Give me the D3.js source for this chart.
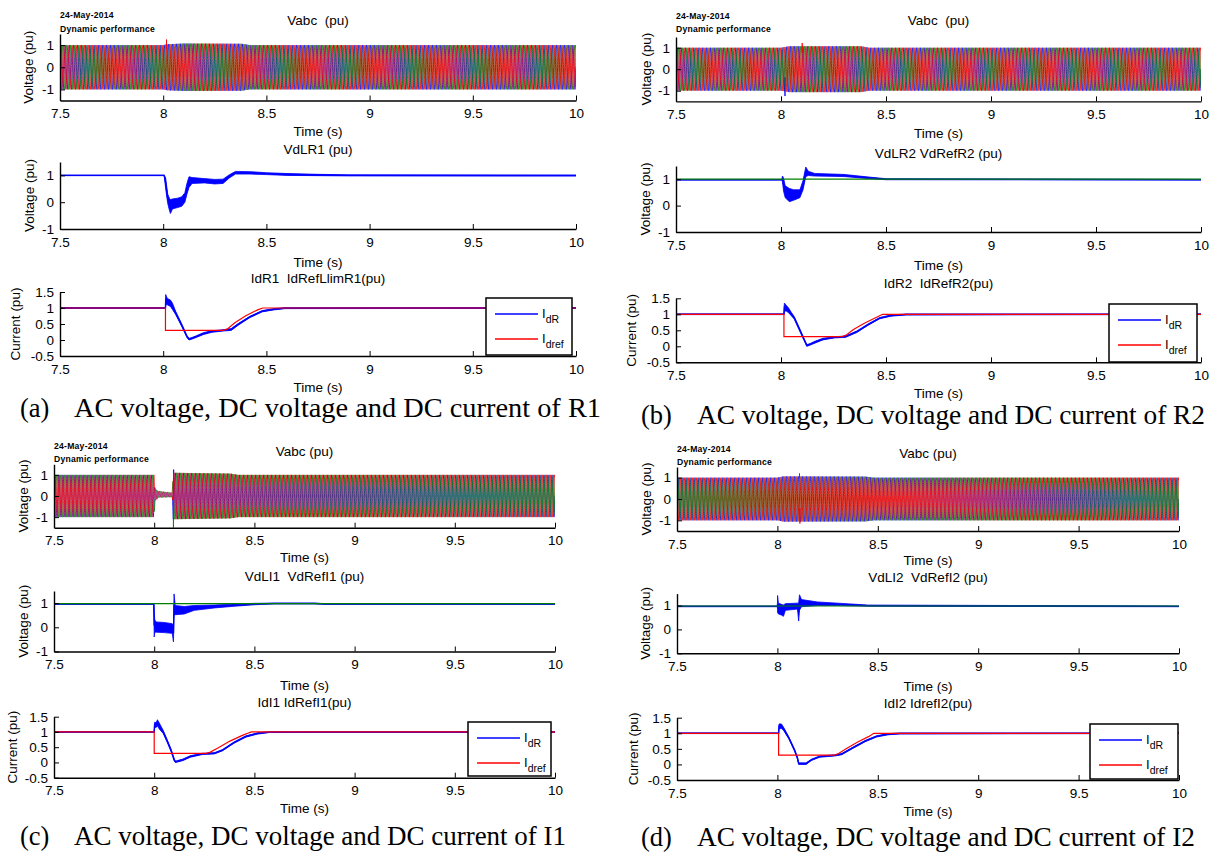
<!DOCTYPE html>
<html>
<head>
<meta charset="utf-8">
<script src="https://cdn.jsdelivr.net/npm/d3@7"></script>
<style>
  body { margin: 0; background: #fff; }
  svg text { font-family: "Liberation Sans", Arial, sans-serif; fill: #000; }
</style>
</head>
<body>
<svg id="fig" width="1215" height="852"></svg>
<script>
// ---------- shared axes ----------
const timeDomain = [7.5, 10];
const timeTicks = [7.5, 8, 8.5, 9, 9.5, 10];
const acVoltDomain = [-1.5, 1.5];
const acVoltTicks = [-1, 0, 1];
const dcVoltDomain = [-1, 1.5];
const dcVoltTicks = [-1, 0, 1];
const currentDomain = [-0.5, 1.5];
const currentTicks = [-0.5, 0, 0.5, 1, 1.5];
const gridHz = 50;

// ---------- text ----------
const stationTags = ["(a)", "(b)", "(c)", "(d)"];
const captions = [
  "AC voltage, DC voltage and DC current of R1",
  "AC voltage, DC voltage and DC current of R2",
  "AC voltage, DC voltage and DC current of I1",
  "AC voltage, DC voltage and DC current of I2"
];
const acTitles = ["Vabc  (pu)", "Vabc  (pu)", "Vabc (pu)", "Vabc (pu)"];
const dcTitles = ["VdLR1 (pu)", "VdLR2 VdRefR2 (pu)", "VdLI1  VdRefI1 (pu)", "VdLI2  VdRefI2 (pu)"];
const idTitles = ["IdR1  IdRefLlimR1(pu)", "IdR2  IdRefR2(pu)", "IdI1 IdRefI1(pu)", "IdI2 IdrefI2(pu)"];
const runDate = "24-May-2014";
const runName = "Dynamic performance";

// ---------- AC voltage envelopes: [time, amplitude, offset] ----------
const acEnvR1 = [[7.5,1.0,0],[8.0,1.0,0],[8.02,1.04,0],[8.1,1.07,0],[8.38,1.06,0],[8.42,1.0,0],[10,1.0,0]];
const acEnvR2 = [[7.5,1.0,0],[8.0,1.0,0],[8.04,1.07,0],[8.38,1.07,0],[8.42,1.0,0],[10,1.0,0]];
const acEnvI1 = [[7.5,1.0,0],[7.999,1.0,0],[8.004,0.3,0.05],[8.02,0.15,0.08],[8.09,0.1,0.05],[8.095,1.1,0],[8.38,1.06,0],[8.42,1.0,0],[10,1.0,0]];
const acEnvI2 = [[7.5,1.0,0],[8.0,1.0,0],[8.03,1.06,0],[8.44,1.05,0],[8.48,1.0,0],[10,1.0,0]];
// AC voltage spikes: [time, phase index (a,b,c), value]
const acSpikesR1 = [[8.016, 2, 1.25]];
const acSpikesR2 = [[8.019, 0, -1.25], [8.101, 2, 1.22]];
const acSpikesI1 = [[8.096, 1, -1.5], [8.097, 0, 1.25]];
const acSpikesI2 = [[8.11, 1, 1.2], [8.112, 2, -1.15]];

// ---------- DC voltage: [time, low, high] ----------
const vdR1 = [[7.5,0.99,1.01],[8.005,0.99,1.01],[8.012,0.5,0.9],[8.022,-0.05,0.3],[8.03,-0.3,0.15],[8.035,-0.42,0.1],
  [8.045,-0.25,0.12],[8.07,-0.2,0.15],[8.09,-0.15,0.2],[8.105,0.0,0.35],[8.115,0.3,0.7],[8.125,0.55,0.95],
  [8.14,0.7,0.92],[8.2,0.72,0.88],[8.25,0.68,0.85],[8.29,0.7,0.86],[8.32,0.9,1.02],[8.35,1.05,1.15],
  [8.42,1.05,1.14],[8.5,1.03,1.1],[8.6,1.0,1.07],[8.75,0.99,1.04],[8.9,0.98,1.02],[10,0.98,1.01]];
const vdR2 = [[7.5,0.97,0.99],[8.004,0.97,0.99],[8.007,0.9,1.12],[8.012,0.55,1.05],[8.02,0.3,0.75],[8.04,0.15,0.65],
  [8.06,0.2,0.6],[8.09,0.3,0.6],[8.105,0.6,0.95],[8.118,1.1,1.46],[8.13,1.14,1.3],[8.16,1.12,1.22],
  [8.3,1.1,1.18],[8.42,1.02,1.08],[8.5,0.98,1.02],[10,0.97,0.99]];
const vdI1 = [[7.5,0.95,0.98],[7.998,0.95,0.98],[8.0,-0.4,0.6],[8.003,-0.2,0.3],[8.01,-0.2,0.22],[8.05,-0.22,0.2],
  [8.09,-0.25,0.15],[8.096,-0.6,0.1],[8.099,0.5,1.38],[8.105,0.52,0.9],[8.15,0.55,0.86],[8.2,0.7,0.9],
  [8.3,0.8,0.92],[8.4,0.87,0.96],[8.5,0.93,0.99],[8.6,0.97,1.0],[8.8,0.97,1.0],[8.85,0.95,0.98],[10,0.95,0.98]];
const vdI2 = [[7.5,0.95,0.98],[8.0,0.95,0.98],[8.001,0.7,1.42],[8.005,0.65,1.1],[8.02,0.6,1.05],[8.03,0.55,1.02],
  [8.04,0.8,1.08],[8.1,0.85,1.1],[8.106,0.35,1.1],[8.11,0.8,1.45],[8.12,0.95,1.25],[8.2,1.0,1.15],
  [8.3,1.0,1.1],[8.45,0.97,1.02],[10,0.95,0.98]];
// DC voltage references: [time, value]
const vdRefR1 = [];
const vdRefR2 = [[7.5,1.0],[10,1.0]];
const vdRefI1 = [[7.5,0.98],[10,0.98]];
const vdRefI2 = [[7.5,0.98],[10,0.98]];

// ---------- DC current: [time, low, high] ----------
const idR1 = [[7.5,0.99,1.01],[8.011,0.99,1.01],[8.012,1.1,1.42],[8.02,1.1,1.3],[8.035,1.05,1.25],[8.045,0.95,1.15],
  [8.06,0.8,0.9],[8.09,0.42,0.5],[8.115,0.08,0.14],[8.125,0.0,0.05],[8.14,0.03,0.08],[8.16,0.08,0.13],
  [8.195,0.17,0.23],[8.235,0.24,0.29],[8.29,0.28,0.32],[8.33,0.3,0.36],[8.365,0.47,0.52],[8.42,0.7,0.74],
  [8.48,0.88,0.92],[8.535,0.94,0.98],[8.59,0.98,1.01],[10,0.99,1.01]];
const idR2 = [[7.5,0.99,1.01],[8.014,0.99,1.01],[8.016,1.1,1.35],[8.025,1.1,1.28],[8.036,1.05,1.2],[8.05,0.95,1.05],
  [8.063,0.85,0.93],[8.09,0.46,0.54],[8.11,0.18,0.24],[8.123,0.0,0.05],[8.14,0.04,0.09],[8.162,0.1,0.16],
  [8.2,0.2,0.25],[8.253,0.26,0.3],[8.307,0.28,0.32],[8.361,0.43,0.48],[8.415,0.66,0.7],[8.47,0.86,0.9],
  [8.523,0.94,0.98],[8.596,0.98,1.01],[10,0.99,1.01]];
const idI1 = [[7.5,0.99,1.01],[8.0,0.99,1.01],[8.002,1.15,1.32],[8.01,1.15,1.3],[8.016,1.2,1.4],[8.025,1.1,1.3],
  [8.045,0.95,1.05],[8.065,0.66,0.74],[8.084,0.36,0.44],[8.1,0.05,0.12],[8.106,0.0,0.04],[8.12,0.02,0.07],
  [8.143,0.06,0.11],[8.18,0.17,0.22],[8.24,0.26,0.3],[8.3,0.28,0.32],[8.34,0.38,0.42],[8.398,0.63,0.67],
  [8.457,0.83,0.87],[8.515,0.93,0.97],[8.575,0.98,1.01],[10,0.99,1.01]];
const idI2 = [[7.5,0.99,1.01],[8.006,0.99,1.01],[8.008,1.15,1.3],[8.02,1.15,1.3],[8.03,1.1,1.2],[8.057,0.82,0.88],
  [8.086,0.42,0.48],[8.1,0.17,0.23],[8.106,0.0,0.05],[8.143,0.0,0.05],[8.17,0.13,0.17],[8.21,0.23,0.27],
  [8.285,0.27,0.31],[8.32,0.31,0.35],[8.38,0.53,0.57],[8.437,0.73,0.77],[8.494,0.88,0.92],[8.55,0.95,0.99],
  [8.61,0.98,1.01],[10,0.99,1.01]];
// current orders: [time, value]
const idRefR1 = [[7.5,1],[8.011,1],[8.011,0.3],[8.29,0.3],[8.31,0.34],[8.347,0.54],[8.4,0.76],[8.46,0.95],[8.483,1],[10,1]];
const idRefR2 = [[7.5,1],[8.014,1],[8.014,0.3],[8.289,0.3],[8.31,0.35],[8.343,0.52],[8.397,0.72],[8.45,0.89],[8.484,1],[10,1]];
const idRefI1 = [[7.5,1],[8.0,1],[8.0,0.3],[8.26,0.3],[8.28,0.34],[8.32,0.48],[8.378,0.7],[8.437,0.88],[8.476,0.98],[8.485,1],[10,1]];
const idRefI2 = [[7.5,1],[8.006,1],[8.006,0.3],[8.285,0.3],[8.305,0.35],[8.342,0.5],[8.4,0.72],[8.456,0.9],[8.48,1],[10,1]];

const legendNames = [["I", "dR"], ["I", "dref"]];

// ---------- styling ----------
const BLUE = "#0000ff", RED = "#ff0000", GREEN = "#008000";
const phaseColors = [BLUE, GREEN, RED];

// ---------- layout of the four station figures ----------
const layout = [
  { x0: 60, x1: 576, tagX: 20, capX: 74, capY: 408, capW: 527, dateY: [15, 28.5],
    subs: [ { top: 34, bottom: 100.5, titleY: 20, xlabY: 131, ylabX: 28 },
            { top: 162, bottom: 229, titleY: 149, xlabY: 262, ylabX: 29 },
            { top: 292, bottom: 356, titleY: 278.5, xlabY: 387, ylabX: 15.5 } ],
    legend: { x: 486, y: 298, w: 86, h: 57 } },
  { x0: 676, x1: 1201, tagX: 641, capX: 697, capY: 415, capW: 508, dateY: [15.5, 29],
    subs: [ { top: 37, bottom: 101.4, titleY: 20.7, xlabY: 133, ylabX: 646.5 },
            { top: 166, bottom: 232, titleY: 153, xlabY: 265, ylabX: 645 },
            { top: 298.3, bottom: 362.3, titleY: 283.3, xlabY: 393, ylabX: 631.5 } ],
    legend: { x: 1109, y: 304, w: 88, h: 58 } },
  { x0: 54, x1: 555, tagX: 20, capX: 74, capY: 836, capW: 492, dateY: [446, 459],
    subs: [ { top: 464.3, bottom: 527.7, titleY: 451.7, xlabY: 557.3, ylabX: 23.5 },
            { top: 591, bottom: 651.5, titleY: 576, xlabY: 685, ylabX: 23.5 },
            { top: 716.7, bottom: 777.7, titleY: 702.7, xlabY: 808, ylabX: 12 } ],
    legend: { x: 468, y: 722, w: 83, h: 54 } },
  { x0: 677, x1: 1179, tagX: 641, capX: 697, capY: 837, capW: 498, dateY: [449, 461.5],
    subs: [ { top: 467, bottom: 531, titleY: 453, xlabY: 560.7, ylabX: 646.5 },
            { top: 593.6, bottom: 653.3, titleY: 577.7, xlabY: 686, ylabX: 645 },
            { top: 717.7, bottom: 780, titleY: 703.3, xlabY: 811, ylabX: 633 } ],
    legend: { x: 1090, y: 724, w: 88, h: 55 } }
];

const stations = [
  { acEnv: acEnvR1, acSpikes: acSpikesR1, vd: vdR1, vdRef: vdRefR1, id: idR1, idRef: idRefR1 },
  { acEnv: acEnvR2, acSpikes: acSpikesR2, vd: vdR2, vdRef: vdRefR2, id: idR2, idRef: idRefR2 },
  { acEnv: acEnvI1, acSpikes: acSpikesI1, vd: vdI1, vdRef: vdRefI1, id: idI1, idRef: idRefI1 },
  { acEnv: acEnvI2, acSpikes: acSpikesI2, vd: vdI2, vdRef: vdRefI2, id: idI2, idRef: idRefI2 }
];

const svg = d3.select("#fig");
const FS = 13.5;

// envelope value at time t (amplitude, offset)
function envelopeAt(env, t) {
  for (let i = 1; i < env.length; i++) {
    if (t <= env[i][0]) {
      const a = env[i - 1], b = env[i];
      const f = b[0] === a[0] ? 1 : (t - a[0]) / (b[0] - a[0]);
      return [a[1] + f * (b[1] - a[1]), a[2] + f * (b[2] - a[2])];
    }
  }
  const last = env[env.length - 1];
  return [last[1], last[2]];
}

// three-phase waveform carried on the recorded envelope at the grid frequency
function phaseTrace(env, spikes, k) {
  const dt = 0.0004;
  const pts = [];
  const n = Math.round((timeDomain[1] - timeDomain[0]) / dt);
  for (let i = 0; i <= n; i++) {
    const t = timeDomain[0] + i * dt;
    const [amp, off] = envelopeAt(env, t);
    pts.push([t, off + amp * Math.sin(2 * Math.PI * gridHz * t - k * 2 * Math.PI / 3)]);
  }
  spikes.filter(s => s[1] === k).forEach(s => pts.push([s[0], s[2]]));
  pts.sort((p, q) => p[0] - q[0]);
  return pts;
}

let clipCount = 0;
function axesFrame(x, y, yTicks, s, ylabText, titleText) {
  const g = svg.append("g");
  const id = "clip" + (clipCount++);
  g.append("clipPath").attr("id", id).append("rect")
    .attr("x", x.range()[0]).attr("y", s.top)
    .attr("width", x.range()[1] - x.range()[0]).attr("height", s.bottom - s.top);
  const plot = g.append("g").attr("clip-path", `url(#${id})`);

  const xa = g.append("g").attr("transform", `translate(0,${s.bottom})`)
    .call(d3.axisBottom(x).tickValues(timeTicks).tickFormat(d => String(d))
      .tickSizeInner(-5).tickSizeOuter(0).tickPadding(8));
  const ya = g.append("g").attr("transform", `translate(${x.range()[0]},0)`)
    .call(d3.axisLeft(y).tickValues(yTicks).tickFormat(d => String(d))
      .tickSizeInner(-5).tickSizeOuter(0).tickPadding(6));
  [xa, ya].forEach(a => {
    a.attr("font-family", null).attr("font-size", null);
    a.selectAll("text").style("font-size", FS + "px").attr("fill", "#000");
    a.select(".domain").attr("stroke", "#000").attr("stroke-width", 1.4);
    a.selectAll(".tick line").attr("stroke", "#000").attr("stroke-width", 1);
  });

  const mid = (x.range()[0] + x.range()[1]) / 2;
  g.append("text").attr("x", mid).attr("y", s.titleY).attr("text-anchor", "middle")
    .attr("dominant-baseline", "central").style("font-size", FS + "px").style("white-space", "pre").text(titleText);
  g.append("text").attr("x", mid).attr("y", s.xlabY).attr("text-anchor", "middle")
    .attr("dominant-baseline", "central").style("font-size", FS + "px").text("Time (s)");
  g.append("text").attr("transform", `translate(${s.ylabX},${(s.top + s.bottom) / 2}) rotate(-90)`)
    .attr("text-anchor", "middle").attr("dominant-baseline", "central")
    .style("font-size", FS + "px").text(ylabText);
  return plot;
}

function bandTrace(plot, x, y, data, color) {
  const area = d3.area().x(d => x(d[0])).y0(d => y(d[1])).y1(d => y(d[2]));
  const midLine = d3.line().x(d => x(d[0])).y(d => y((d[1] + d[2]) / 2));
  plot.append("path").datum(data).attr("d", area).attr("fill", color)
    .attr("stroke", color).attr("stroke-width", 0.8);
  plot.append("path").datum(data).attr("d", midLine).attr("fill", "none")
    .attr("stroke", color).attr("stroke-width", 1.4);
}

function plainTrace(plot, x, y, data, color, w) {
  if (!data.length) return;
  const line = d3.line().x(d => x(d[0])).y(d => y(d[1]));
  plot.append("path").datum(data).attr("d", line).attr("fill", "none")
    .attr("stroke", color).attr("stroke-width", w);
}

stations.forEach((st, i) => {
  const L = layout[i];
  const x = d3.scaleLinear().domain(timeDomain).range([L.x0, L.x1]);

  // AC voltage
  const s0 = L.subs[0];
  const yAc = d3.scaleLinear().domain(acVoltDomain).range([s0.bottom, s0.top]);
  const p0 = axesFrame(x, yAc, acVoltTicks, s0, "Voltage (pu)", acTitles[i]);
  [0, 1, 2].forEach(k => plainTrace(p0, x, yAc, phaseTrace(st.acEnv, st.acSpikes, k), phaseColors[k], 0.85));
  svg.append("text").attr("x", L.x0).attr("y", L.dateY[0]).attr("dominant-baseline", "central")
    .style("font-size", "8.6px").style("font-weight", "bold").style("letter-spacing", "0.25px").text(runDate);
  svg.append("text").attr("x", L.x0).attr("y", L.dateY[1]).attr("dominant-baseline", "central")
    .style("font-size", "8.6px").style("font-weight", "bold").style("letter-spacing", "0.25px").text(runName);

  // DC voltage
  const s1 = L.subs[1];
  const yVd = d3.scaleLinear().domain(dcVoltDomain).range([s1.bottom, s1.top]);
  const p1 = axesFrame(x, yVd, dcVoltTicks, s1, "Voltage (pu)", dcTitles[i]);
  bandTrace(p1, x, yVd, st.vd, BLUE);
  plainTrace(p1, x, yVd, st.vdRef, GREEN, 1.2);

  // DC current
  const s2 = L.subs[2];
  const yId = d3.scaleLinear().domain(currentDomain).range([s2.bottom, s2.top]);
  const p2 = axesFrame(x, yId, currentTicks, s2, "Current (pu)", idTitles[i]);
  bandTrace(p2, x, yId, st.id, BLUE);
  plainTrace(p2, x, yId, st.idRef, RED, 1.2);

  // legend
  const lg = L.legend;
  const leg = svg.append("g");
  leg.append("rect").attr("x", lg.x).attr("y", lg.y).attr("width", lg.w).attr("height", lg.h)
    .attr("fill", "#fff").attr("stroke", "#000").attr("stroke-width", 1.5);
  [BLUE, RED].forEach((c, r) => {
    const yy = lg.y + 16 + r * 25;
    leg.append("line").attr("x1", lg.x + 9).attr("x2", lg.x + 52).attr("y1", yy).attr("y2", yy)
      .attr("stroke", c).attr("stroke-width", 1.3);
    const t = leg.append("text").attr("x", lg.x + 56).attr("y", yy + 3.5).style("font-size", "13px");
    t.append("tspan").text(legendNames[r][0]);
    t.append("tspan").attr("dy", 5).style("font-size", "10.5px").text(legendNames[r][1]);
  });

  // caption
  const serif = "'Liberation Serif','Times New Roman',serif";
  svg.append("text").attr("x", L.tagX).attr("y", L.capY).attr("dominant-baseline", "central")
    .style("font-family", serif).style("font-size", "26.5px").text(stationTags[i]);
  svg.append("text").attr("x", L.capX).attr("y", L.capY).attr("dominant-baseline", "central")
    .attr("textLength", L.capW).attr("lengthAdjust", "spacingAndGlyphs")
    .style("font-family", serif).style("font-size", "26.5px").text(captions[i]);
});
</script>
</body>
</html>
